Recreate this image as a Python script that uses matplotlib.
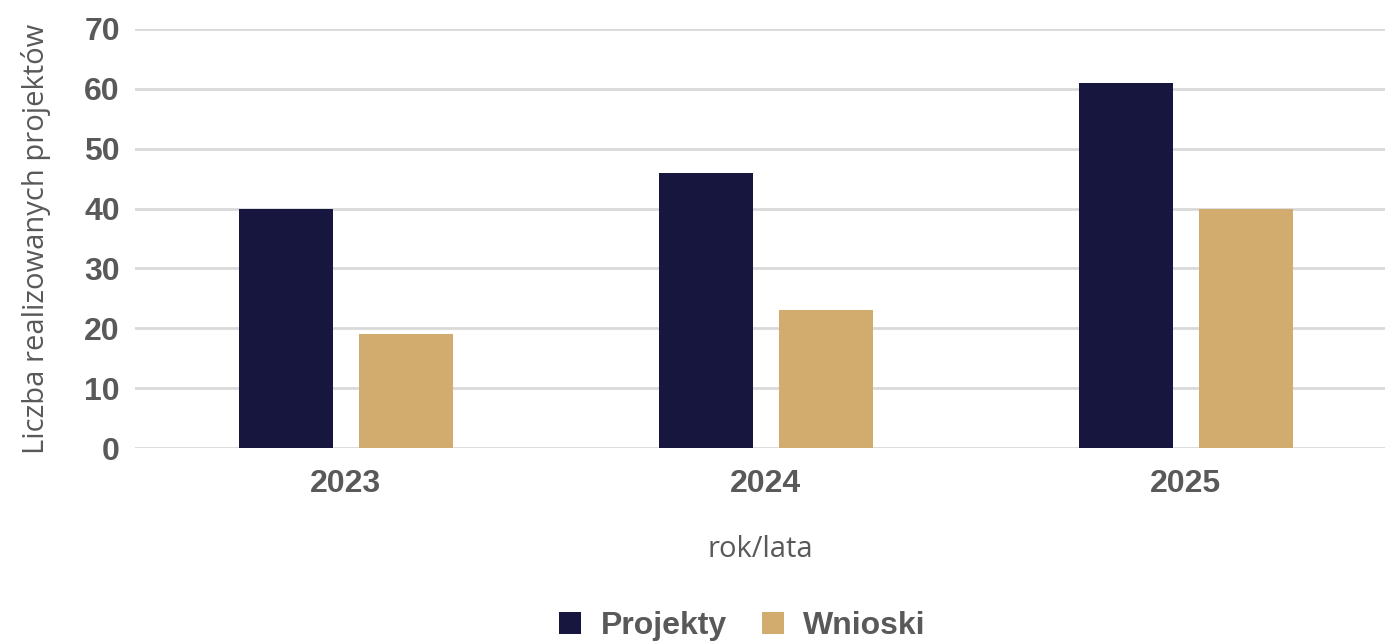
import numpy as np
import matplotlib.pyplot as plt

lata = ['2023', '2024', '2025']
projekty = [40, 46, 61]
wnioski = [19, 23, 40]

granat = '#16163F'
zloty = '#D1AC6E'
szary = '#595959'

fig = plt.figure(figsize=(13.85, 6.42), dpi=100)
ax = fig.add_axes([0.0975, 0.302, 0.9025, 0.653])

x = np.arange(len(lata))
szer = 0.224
ax.bar(x - 0.143, projekty, szer, color=granat, label='Projekty', zorder=3)
ax.bar(x + 0.143, wnioski, szer, color=zloty, label='Wnioski', zorder=3)

ax.set_ylim(0, 70)
ax.set_xlim(-0.502, 2.474)
ax.set_yticks(range(0, 71, 10))
ax.set_xticks(x)
ax.set_xticklabels(lata)
ax.yaxis.grid(True, color='#d9d9d9', linewidth=2, zorder=0)
for s in ax.spines.values():
    s.set_visible(False)
ax.tick_params(length=0, labelsize=23, labelcolor=szary)
for t in ax.get_xticklabels() + ax.get_yticklabels():
    t.set_fontweight('bold')
    t.set_fontfamily('Liberation Sans')
ax.tick_params(axis='y', pad=11)
ax.tick_params(axis='x', pad=15)

# labelpad jest w punktach
ax.set_ylabel('Liczba realizowanych projektów', fontsize=21, color=szary,
              family='Open Sans', labelpad=24)
ax.set_xlabel('rok/lata', fontsize=21, color=szary, family='Open Sans', labelpad=26)

leg = ax.legend(loc='center', bbox_to_anchor=(0.486, -0.425), ncol=2, frameon=False,
                prop={'family': 'Liberation Sans', 'weight': 'bold', 'size': 23},
                handlelength=0.7, handleheight=0.7, columnspacing=1.1, handletextpad=0.6)
for t in leg.get_texts():
    t.set_color(szary)

fig.savefig('out.png', dpi=100)
